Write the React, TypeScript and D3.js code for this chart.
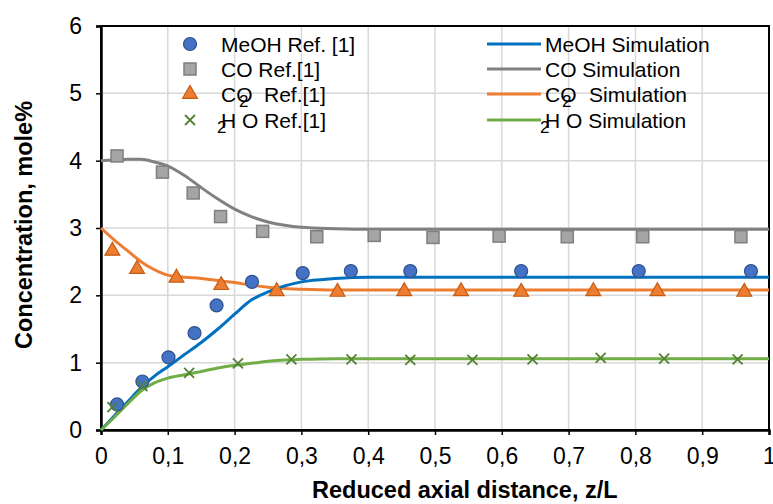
import React, { useEffect, useRef } from 'react';
import * as d3 from 'd3';

// reference points
const meohRefX = [0.024, 0.062, 0.101, 0.14, 0.173, 0.226, 0.302, 0.374, 0.463, 0.629, 0.805, 0.973];
const meohRefY = [0.38, 0.72, 1.08, 1.44, 1.85, 2.2, 2.33, 2.36, 2.36, 2.36, 2.36, 2.36];

const coRefX = [0.024, 0.092, 0.138, 0.179, 0.242, 0.323, 0.409, 0.497, 0.596, 0.698, 0.811, 0.958];
const coRefY = [4.07, 3.83, 3.52, 3.17, 2.95, 2.87, 2.89, 2.86, 2.88, 2.87, 2.87, 2.87];

const co2RefX = [0.017, 0.054, 0.113, 0.18, 0.263, 0.354, 0.454, 0.539, 0.629, 0.737, 0.833, 0.963];
const co2RefY = [2.66, 2.39, 2.26, 2.15, 2.06, 2.05, 2.06, 2.06, 2.05, 2.06, 2.06, 2.05];

const h2oRefX = [0.017, 0.062, 0.132, 0.205, 0.285, 0.375, 0.463, 0.556, 0.646, 0.748, 0.843, 0.953];
const h2oRefY = [0.34, 0.65, 0.85, 0.99, 1.05, 1.05, 1.04, 1.04, 1.05, 1.07, 1.06, 1.05];

// simulation curves
const simX = [0, 0.02, 0.04, 0.06, 0.08, 0.1, 0.125, 0.15, 0.175, 0.2, 0.225, 0.25, 0.275, 0.3, 0.35, 0.4, 0.5, 0.6, 0.7, 0.8, 0.9, 1.0];
const meohSim = [0, 0.21, 0.42, 0.63, 0.8, 0.94, 1.12, 1.3, 1.5, 1.72, 1.93, 2.05, 2.14, 2.2, 2.25, 2.27, 2.27, 2.27, 2.27, 2.27, 2.27, 2.27];
const coSim = [4.0, 4.01, 4.02, 4.02, 3.98, 3.92, 3.78, 3.6, 3.43, 3.28, 3.17, 3.09, 3.04, 3.01, 2.99, 2.98, 2.98, 2.98, 2.98, 2.98, 2.98, 2.98];
const co2Sim = [3.0, 2.82, 2.66, 2.5, 2.38, 2.3, 2.27, 2.25, 2.22, 2.19, 2.15, 2.12, 2.1, 2.09, 2.08, 2.08, 2.08, 2.08, 2.08, 2.08, 2.08, 2.08];
const h2oSim = [0, 0.19, 0.39, 0.58, 0.7, 0.77, 0.82, 0.87, 0.92, 0.96, 0.99, 1.02, 1.04, 1.05, 1.06, 1.06, 1.06, 1.06, 1.06, 1.06, 1.06, 1.06];

const xTicks = [0, 0.1, 0.2, 0.3, 0.4, 0.5, 0.6, 0.7, 0.8, 0.9, 1];
const xTickLabels = ['0', '0,1', '0,2', '0,3', '0,4', '0,5', '0,6', '0,7', '0,8', '0,9', '1'];
const yTicks = [0, 1, 2, 3, 4, 5, 6];

const FONT = 'Liberation Sans, Arial, sans-serif';

const App = () => {
    const svgRef = useRef<SVGSVGElement>(null);

    useEffect(() => {
        if (!svgRef.current) return;
        const width = 773;
        const height = 504;
        const margin = { top: 26, right: 4, bottom: 74, left: 101 };

        const svg = d3.select(svgRef.current).attr('width', width).attr('height', height);
        svg.selectAll('*').remove();

        const x = d3.scaleLinear().domain([0, 1]).range([margin.left, width - margin.right]);
        const y = d3.scaleLinear().domain([0, 6]).range([height - margin.bottom, margin.top]);

        // grid
        const grid = svg.append('g');
        grid.selectAll('.vg').data(xTicks.slice(1, -1)).enter().append('line')
            .attr('x1', d => x(d)).attr('x2', d => x(d))
            .attr('y1', y(0)).attr('y2', y(6))
            .attr('stroke', '#d9d9d9').attr('stroke-width', 1.5);
        grid.selectAll('.hg').data(yTicks.slice(1, -1)).enter().append('line')
            .attr('x1', x(0)).attr('x2', x(1))
            .attr('y1', d => y(d)).attr('y2', d => y(d))
            .attr('stroke', '#d9d9d9').attr('stroke-width', 1.5);

        // frame
        svg.append('rect')
            .attr('x', x(0)).attr('y', y(6))
            .attr('width', x(1) - x(0)).attr('height', y(0) - y(6))
            .attr('fill', 'none').attr('stroke', '#000').attr('stroke-width', 2);

        // axes
        svg.append('g')
            .attr('transform', `translate(0,${y(0)})`)
            .call(d3.axisBottom(x).tickValues(xTicks).tickSize(5).tickPadding(13)
                .tickFormat((_d, i) => xTickLabels[i]))
            .call(g => g.select('.domain').attr('stroke-width', 2.5))
            .call(g => g.selectAll('.tick line').attr('stroke-width', 1.5))
            .call(g => g.selectAll('text').attr('font-size', 23).attr('font-family', FONT).attr('fill', '#000'));

        svg.append('g')
            .attr('transform', `translate(${x(0)},0)`)
            .call(d3.axisLeft(y).tickValues(yTicks).tickSize(5).tickPadding(14).tickFormat(d3.format('d')))
            .call(g => g.select('.domain').attr('stroke-width', 2.5))
            .call(g => g.selectAll('.tick line').attr('stroke-width', 1.5))
            .call(g => g.selectAll('text').attr('font-size', 23).attr('font-family', FONT).attr('fill', '#000'));

        // simulation lines
        const line = d3.line<number>()
            .x((_d, i) => x(simX[i]))
            .y(d => y(d))
            .curve(d3.curveMonotoneX);

        const sims = [
            { values: coSim, color: '#808080' },
            { values: co2Sim, color: '#ED7D31' },
            { values: meohSim, color: '#0070C0' },
            { values: h2oSim, color: '#70AD47' },
        ];
        sims.forEach(s => {
            svg.append('path')
                .attr('d', line(s.values))
                .attr('fill', 'none')
                .attr('stroke', s.color)
                .attr('stroke-width', 3);
        });

        // reference markers
        const pts = (xs: number[], ys: number[]) => xs.map((v, i) => [v, ys[i]]);

        svg.append('g').selectAll('rect').data(pts(coRefX, coRefY)).enter().append('rect')
            .attr('x', d => x(d[0]) - 6).attr('y', d => y(d[1]) - 6)
            .attr('width', 12).attr('height', 12)
            .attr('fill', '#A5A5A5').attr('stroke', '#7F7F7F').attr('stroke-width', 1.5);

        svg.append('g').selectAll('path').data(pts(co2RefX, co2RefY)).enter().append('path')
            .attr('d', d3.symbol().type(d3.symbolTriangle).size(95)())
            .attr('transform', d => `translate(${x(d[0])},${y(d[1])})`)
            .attr('fill', '#ED7D31').attr('stroke', '#C55A11').attr('stroke-width', 1.2);

        svg.append('g').selectAll('circle').data(pts(meohRefX, meohRefY)).enter().append('circle')
            .attr('cx', d => x(d[0])).attr('cy', d => y(d[1])).attr('r', 6.5)
            .attr('fill', '#4472C4').attr('stroke', '#2F528F').attr('stroke-width', 1.2);

        svg.append('g').selectAll('path').data(pts(h2oRefX, h2oRefY)).enter().append('path')
            .attr('d', 'M-5,-5L5,5M-5,5L5,-5')
            .attr('transform', d => `translate(${x(d[0])},${y(d[1])})`)
            .attr('fill', 'none').attr('stroke', '#548235').attr('stroke-width', 1.8);

        // legend
        const rows = [44, 69, 94, 120];
        const lg = svg.append('g').attr('font-family', FONT).attr('font-size', 21).attr('fill', '#000');
        const mx = 190;
        lg.append('circle').attr('cx', mx).attr('cy', rows[0]).attr('r', 6.5)
            .attr('fill', '#4472C4').attr('stroke', '#2F528F').attr('stroke-width', 1.2);
        lg.append('rect').attr('x', mx - 6).attr('y', rows[1] - 6).attr('width', 12).attr('height', 12)
            .attr('fill', '#A5A5A5').attr('stroke', '#7F7F7F').attr('stroke-width', 1.5);
        lg.append('path').attr('d', d3.symbol().type(d3.symbolTriangle).size(95)())
            .attr('transform', `translate(${mx},${rows[2]})`)
            .attr('fill', '#ED7D31').attr('stroke', '#C55A11').attr('stroke-width', 1.2);
        lg.append('path').attr('d', 'M-5,-5L5,5M-5,5L5,-5')
            .attr('transform', `translate(${mx},${rows[3]})`)
            .attr('fill', 'none').attr('stroke', '#548235').attr('stroke-width', 1.8);

        const lineColors = ['#0070C0', '#808080', '#ED7D31', '#70AD47'];
        lineColors.forEach((c, i) => {
            lg.append('line').attr('x1', 487).attr('x2', 541)
                .attr('y1', rows[i]).attr('y2', rows[i])
                .attr('stroke', c).attr('stroke-width', 3);
        });

        const base = (i: number) => rows[i] + 7.5;
        const tx = 221;
        const rx = 545;
        lg.append('text').attr('x', tx).attr('y', base(0)).text('MeOH Ref. [1]');
        lg.append('text').attr('x', tx).attr('y', base(1)).text('CO Ref.[1]');
        lg.append('text').attr('x', tx).attr('y', base(2)).text('CO');
        lg.append('text').attr('x', tx + 18).attr('y', base(2) + 5).attr('font-size', 17).text('2');
        lg.append('text').attr('x', tx + 43).attr('y', base(2)).text('Ref.[1]');
        lg.append('text').attr('x', tx - 4).attr('y', base(3) + 5).attr('font-size', 17).text('2');
        lg.append('text').attr('x', tx).attr('y', base(3)).text('H');
        lg.append('text').attr('x', tx + 21).attr('y', base(3)).text('O Ref.[1]');

        lg.append('text').attr('x', rx).attr('y', base(0)).text('MeOH Simulation');
        lg.append('text').attr('x', rx).attr('y', base(1)).text('CO Simulation');
        lg.append('text').attr('x', rx).attr('y', base(2)).text('CO');
        lg.append('text').attr('x', rx + 17).attr('y', base(2) + 5).attr('font-size', 17).text('2');
        lg.append('text').attr('x', rx + 44).attr('y', base(2)).text('Simulation');
        lg.append('text').attr('x', rx - 5).attr('y', base(3) + 5).attr('font-size', 17).text('2');
        lg.append('text').attr('x', rx).attr('y', base(3)).text('H');
        lg.append('text').attr('x', rx + 21).attr('y', base(3)).text('O Simulation');

        // axis titles
        svg.append('text')
            .attr('x', 312).attr('y', 498)
            .attr('font-family', FONT).attr('font-size', 23.5).attr('font-weight', 'bold')
            .text('Reduced axial distance, z/L');

        svg.append('text')
            .attr('transform', `translate(32,225) rotate(-90)`)
            .attr('text-anchor', 'middle')
            .attr('font-family', FONT).attr('font-size', 23.5).attr('font-weight', 'bold')
            .text('Concentration, mole%');
    }, []);

    return (
        <div style={{ position: 'absolute', left: 0, top: 0, background: '#fff' }}>
            <svg ref={svgRef} style={{ display: 'block' }}></svg>
        </div>
    );
};

export default App;
